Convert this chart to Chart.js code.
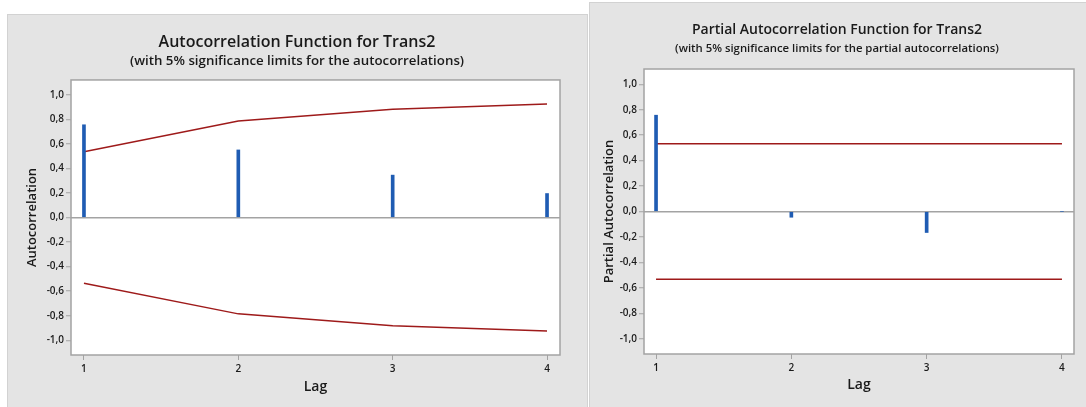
<!DOCTYPE html>
<html>
<head>
<meta charset="utf-8">
<script src="https://cdn.jsdelivr.net/npm/chart.js@4.4.1/dist/chart.umd.min.js"></script>
<style>
  html, body { margin: 0; padding: 0; background: #ffffff; width: 1086px; height: 407px; overflow: hidden; }
  .panel { position: absolute; background: #e4e4e4; box-sizing: border-box; }
  #p1 { left: 7px; top: 14px; width: 581px; height: 393px; border-top: 1px solid #d2d2d2; border-left: 1px solid #d2d2d2; border-right: 1px solid #d2d2d2; }
  #p2 { left: 589px; top: 2px; width: 497px; height: 405px; border-top: 1px solid #d2d2d2; border-left: 1px solid #d2d2d2; }
  canvas { position: absolute; }
  #c1 { left: 7px; top: 14px; }
  #c2 { left: 588px; top: 2px; }
</style>
</head>
<body>
<div class="panel" id="p1"></div>
<div class="panel" id="p2"></div>
<canvas id="c1" width="580" height="393"></canvas>
<canvas id="c2" width="498" height="405"></canvas>
<script>
// ---- data ----
const lags = [1, 2, 3, 4];
const lagLabels = ["1", "2", "3", "4"];
const acfValues = [0.755, 0.55, 0.345, 0.195];
const acfUpper = [0.535, 0.785, 0.882, 0.925];
const acfLower = [-0.535, -0.785, -0.882, -0.925];
const pacfValues = [0.757, -0.045, -0.165, 0.0];
const pacfUpper = [0.533, 0.533, 0.533, 0.533];
const pacfLower = [-0.533, -0.533, -0.533, -0.533];
const yTickValues = [-1.0, -0.8, -0.6, -0.4, -0.2, 0.0, 0.2, 0.4, 0.6, 0.8, 1.0];
const yTickLabels = ["-1,0", "-0,8", "-0,6", "-0,4", "-0,2", "0,0", "0,2", "0,4", "0,6", "0,8", "1,0"];

const FONT = "'Open Sans', 'Noto Sans', sans-serif";
const BAR = '#1f5cb3';
const LIMIT = '#9e1a1a';
const AXIS = '#a3a3a3';
const TEXT = '#1a1a1a';

const boxPlugin = {
  id: 'box',
  beforeDraw(chart) {
    const a = chart.chartArea, ctx = chart.ctx;
    ctx.save();
    ctx.fillStyle = '#ffffff';
    ctx.fillRect(a.left, a.top, a.right - a.left, a.bottom - a.top);
    ctx.restore();
  },
  afterDraw(chart) {
    const a = chart.chartArea, ctx = chart.ctx;
    ctx.save();
    ctx.strokeStyle = AXIS;
    ctx.lineWidth = 1.5;
    ctx.strokeRect(a.left, a.top, a.right - a.left, a.bottom - a.top);
    ctx.restore();
  }
};

function makeChart(canvasId, cfg) {
  const pts = (ys) => lags.map((x, i) => ({ x: x, y: ys[i] }));
  return new Chart(document.getElementById(canvasId), {
    type: 'bar',
    data: {
      datasets: [
        { type: 'line', data: pts(cfg.upper), borderColor: LIMIT, borderWidth: 1.5, pointRadius: 0, tension: 0, fill: false, order: 2 },
        { type: 'line', data: pts(cfg.lower), borderColor: LIMIT, borderWidth: 1.5, pointRadius: 0, tension: 0, fill: false, order: 2 },
        { type: 'bar', data: pts(cfg.values), backgroundColor: BAR, borderWidth: 0, barThickness: 3, order: 1 }
      ]
    },
    options: {
      responsive: false,
      maintainAspectRatio: false,
      animation: false,
      devicePixelRatio: 1,
      layout: { padding: 0 },
      plugins: {
        legend: { display: false },
        tooltip: { enabled: false },
        title: {
          display: true, text: cfg.title, color: TEXT,
          font: { family: FONT, size: cfg.titleSize, weight: '600' },
          padding: { top: cfg.titlePadTop, bottom: 0 }
        },
        subtitle: {
          display: true, text: cfg.subtitle, color: TEXT,
          font: { family: FONT, size: cfg.subSize, weight: '600' },
          padding: { top: cfg.subPadTop, bottom: cfg.subPadBottom }
        }
      },
      scales: {
        x: {
          type: 'linear', position: 'bottom', offset: false,
          min: cfg.xMin, max: cfg.xMax,
          afterBuildTicks: (s) => { s.ticks = lags.map(v => ({ value: v })); },
          afterFit: (s) => { s.height = cfg.xAxisHeight; },
          ticks: {
            color: TEXT, font: { family: FONT, size: 10, weight: '600' }, padding: 3, maxRotation: 0,
            callback: (v) => { const i = lags.indexOf(v); return i >= 0 ? lagLabels[i] : ''; }
          },
          grid: { offset: false, drawOnChartArea: false, drawTicks: true, tickLength: 5, tickColor: AXIS, tickWidth: 1 },
          border: { display: false },
          title: { display: true, text: 'Lag', color: TEXT, font: { family: FONT, size: 14, weight: '600' }, padding: { top: 0, bottom: cfg.lagPadBottom } }
        },
        y: {
          type: 'linear', position: 'left',
          min: -1.12, max: 1.12,
          afterBuildTicks: (s) => { s.ticks = yTickValues.map(v => ({ value: v })); },
          afterFit: (s) => { s.width = cfg.yAxisWidth; },
          ticks: {
            color: TEXT, font: { family: FONT, size: 10, weight: '600' }, padding: 2,
            callback: (v) => { const i = yTickValues.findIndex(t => Math.abs(t - v) < 1e-9); return i >= 0 ? yTickLabels[i] : ''; }
          },
          grid: {
            drawOnChartArea: true, drawTicks: true, tickLength: 5, tickColor: AXIS, tickWidth: 1, lineWidth: 1.5,
            color: (c) => (c.tick && Math.abs(c.tick.value) < 1e-9) ? AXIS : 'rgba(0,0,0,0)'
          },
          border: { display: false },
          title: { display: true, text: cfg.yTitle, color: TEXT, font: { family: FONT, size: 13, weight: '600' }, padding: { top: cfg.yTitlePad, bottom: 0 } }
        },
        yr: {
          type: 'linear', axis: 'y', position: 'right', display: true,
          min: -1.12, max: 1.12,
          afterFit: (s) => { s.width = cfg.rightGap; },
          ticks: { display: false },
          grid: { display: false, drawTicks: false },
          border: { display: false },
          title: { display: false }
        }
      }
    },
    plugins: [boxPlugin]
  });
}

makeChart('c1', {
  title: 'Autocorrelation Function for Trans2',
  subtitle: '(with 5% significance limits for the autocorrelations)',
  titleSize: 16, titlePadTop: 18.4, subSize: 13.3, subPadTop: 1.4, subPadBottom: 11.0,
  values: acfValues, upper: acfUpper, lower: acfLower,
  xMin: 0.916, xMax: 4.084,
  yAxisWidth: 64, rightGap: 27, xAxisHeight: 52, lagPadBottom: 12, yTitlePad: 17.2,
  yTitle: 'Autocorrelation'
});

makeChart('c2', {
  title: 'Partial Autocorrelation Function for Trans2',
  subtitle: '(with 5% significance limits for the partial autocorrelations)',
  titleSize: 14, titlePadTop: 19.6, subSize: 11.35, subPadTop: 3.8, subPadBottom: 13.2,
  values: pacfValues, upper: pacfUpper, lower: pacfLower,
  xMin: 0.911, xMax: 4.089,
  yAxisWidth: 56, rightGap: 12, xAxisHeight: 53, lagPadBottom: 14, yTitlePad: 13.7,
  yTitle: 'Partial Autocorrelation'
});
</script>
</body>
</html>
